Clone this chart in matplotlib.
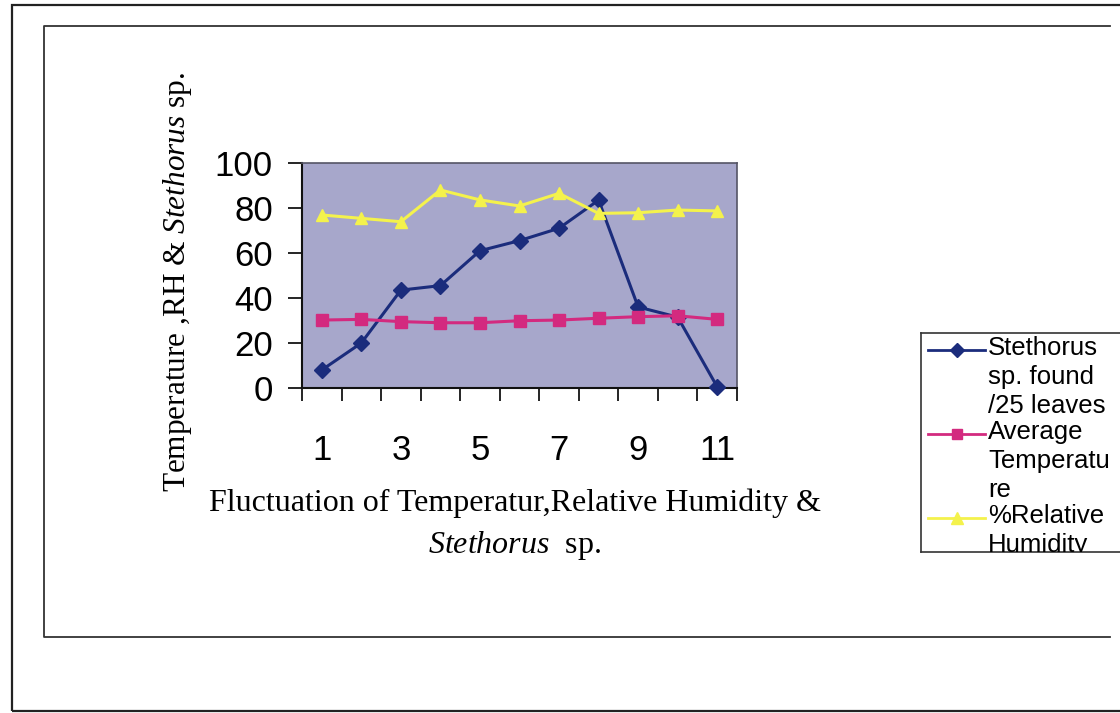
import numpy as np
import matplotlib.pyplot as plt
from matplotlib.lines import Line2D
from matplotlib.patches import Rectangle

plt.rcParams["mathtext.fontset"] = "custom"
plt.rcParams["mathtext.rm"] = "Liberation Serif"
plt.rcParams["mathtext.it"] = "Liberation Serif:italic"

# data
categories = list(range(1, 12))
stethorus = [8, 20, 43.5, 45.5, 61, 65.5, 71, 83.5, 36, 31.5, 0.5]
avg_temp = [30.2, 30.5, 29.5, 29, 29, 29.9, 30.2, 31, 31.7, 32.1, 30.5]
rel_humidity = [76.9, 75.4, 73.9, 88, 83.6, 80.9, 86.5, 77.6, 77.9, 79.1, 78.7]
xtick_labels = ["1", "3", "5", "7", "9", "11"]
ytick_values = [0, 20, 40, 60, 80, 100]
legend_labels = ["Stethorus\nsp. found\n/25 leaves", "Average\nTemperatu\nre", "%Relative\nHumidity"]

W, H = 1120, 713
fig = plt.figure(figsize=(W / 100, H / 100), dpi=100)
fig.patch.set_facecolor("white")


def fx(px):
    return px / W


def fy(py):
    return 1 - py / H


def page_line(xs, ys, color, lw):
    fig.add_artist(Line2D([fx(v) for v in xs], [fy(v) for v in ys], transform=fig.transFigure,
                          color=color, linewidth=lw))


# page frames (right sides fall outside the scan)
fig.add_artist(Rectangle((fx(12), fy(711)), fx(1200), fy(5) - fy(711), transform=fig.transFigure,
                         fill=False, edgecolor="#222222", linewidth=1.6))
page_line([1110, 44, 44, 1110], [26, 26, 637, 637], "#333333", 1.3)

series = [
    (stethorus, "#1b2c7c", "D", 8),
    (avg_temp, "#d32a7f", "s", 8),
    (rel_humidity, "#f4f24c", "^", 9),
]

ax = fig.add_axes([fx(302), fy(388), fx(737) - fx(302), fy(163) - fy(388)])
ax.set_facecolor("#a7a7cb")
x = np.array(categories)
for values, color, marker, ms in series:
    ax.plot(x, values, color=color, linewidth=2.2, marker=marker, markersize=ms,
            markerfacecolor=color, markeredgecolor=color, clip_on=False, zorder=3)

ax.set_xlim(0.5, 11.5)
ax.set_ylim(0, 100)
ax.set_yticks(ytick_values)
ax.set_yticklabels([str(v) for v in ytick_values], fontsize=25, family="Liberation Sans")
ax.tick_params(axis="y", direction="out", length=10, width=1.2, pad=11)
ax.set_xticks([int(t) for t in xtick_labels])
ax.set_xticklabels(xtick_labels, fontsize=25, family="Liberation Sans")
ax.set_xticks(np.arange(0.5, 12, 1), minor=True)
ax.tick_params(axis="x", which="major", length=0, pad=33)
ax.tick_params(axis="x", which="minor", direction="out", length=9, width=1.2)
for side in ["top", "right"]:
    ax.spines[side].set_color("#555566")
    ax.spines[side].set_linewidth(1.2)
for side in ["left", "bottom"]:
    ax.spines[side].set_color("#111111")
    ax.spines[side].set_linewidth(1.5)

fig.text(fx(177), fy(282), r"Temperature ,RH & $\mathit{Stethorus}$ sp.", rotation=90,
         ha="center", va="center", fontsize=22.5, family="Liberation Serif")
fig.text(fx(515), fy(503), "Fluctuation of Temperatur,Relative Humidity &",
         ha="center", va="center", fontsize=23, family="Liberation Serif")
fig.text(fx(515), fy(546), r"$\mathit{Stethorus}$  sp.",
         ha="center", va="center", fontsize=23, family="Liberation Serif")

# legend box, cut off at the right page edge like the scan
lx0, ly0, lx1, ly1 = 921, 333, 1135, 552
leg = fig.add_axes([fx(lx0), fy(ly1), fx(lx1) - fx(lx0), fy(ly0) - fy(ly1)])
leg.set_xlim(0, lx1 - lx0)
leg.set_ylim(ly1 - ly0, 0)
leg.set_xticks([])
leg.set_yticks([])
leg.set_facecolor("white")
for s in leg.spines.values():
    s.set_color("#333333")
    s.set_linewidth(1.2)
entry_y = [17, 101, 185]
for (values, color, marker, ms), label, yy in zip(series, legend_labels, entry_y):
    leg.plot([7, 36, 64], [yy, yy, yy], color=color, linewidth=2, marker=marker, markevery=[1],
             markersize=ms - 1, markerfacecolor=color, markeredgecolor=color)
    leg.text(67, yy - 14, label, va="top", ha="left", fontsize=18.5, family="Liberation Sans",
             linespacing=1.26, clip_on=True)

fig.savefig("out.png", dpi=100)
